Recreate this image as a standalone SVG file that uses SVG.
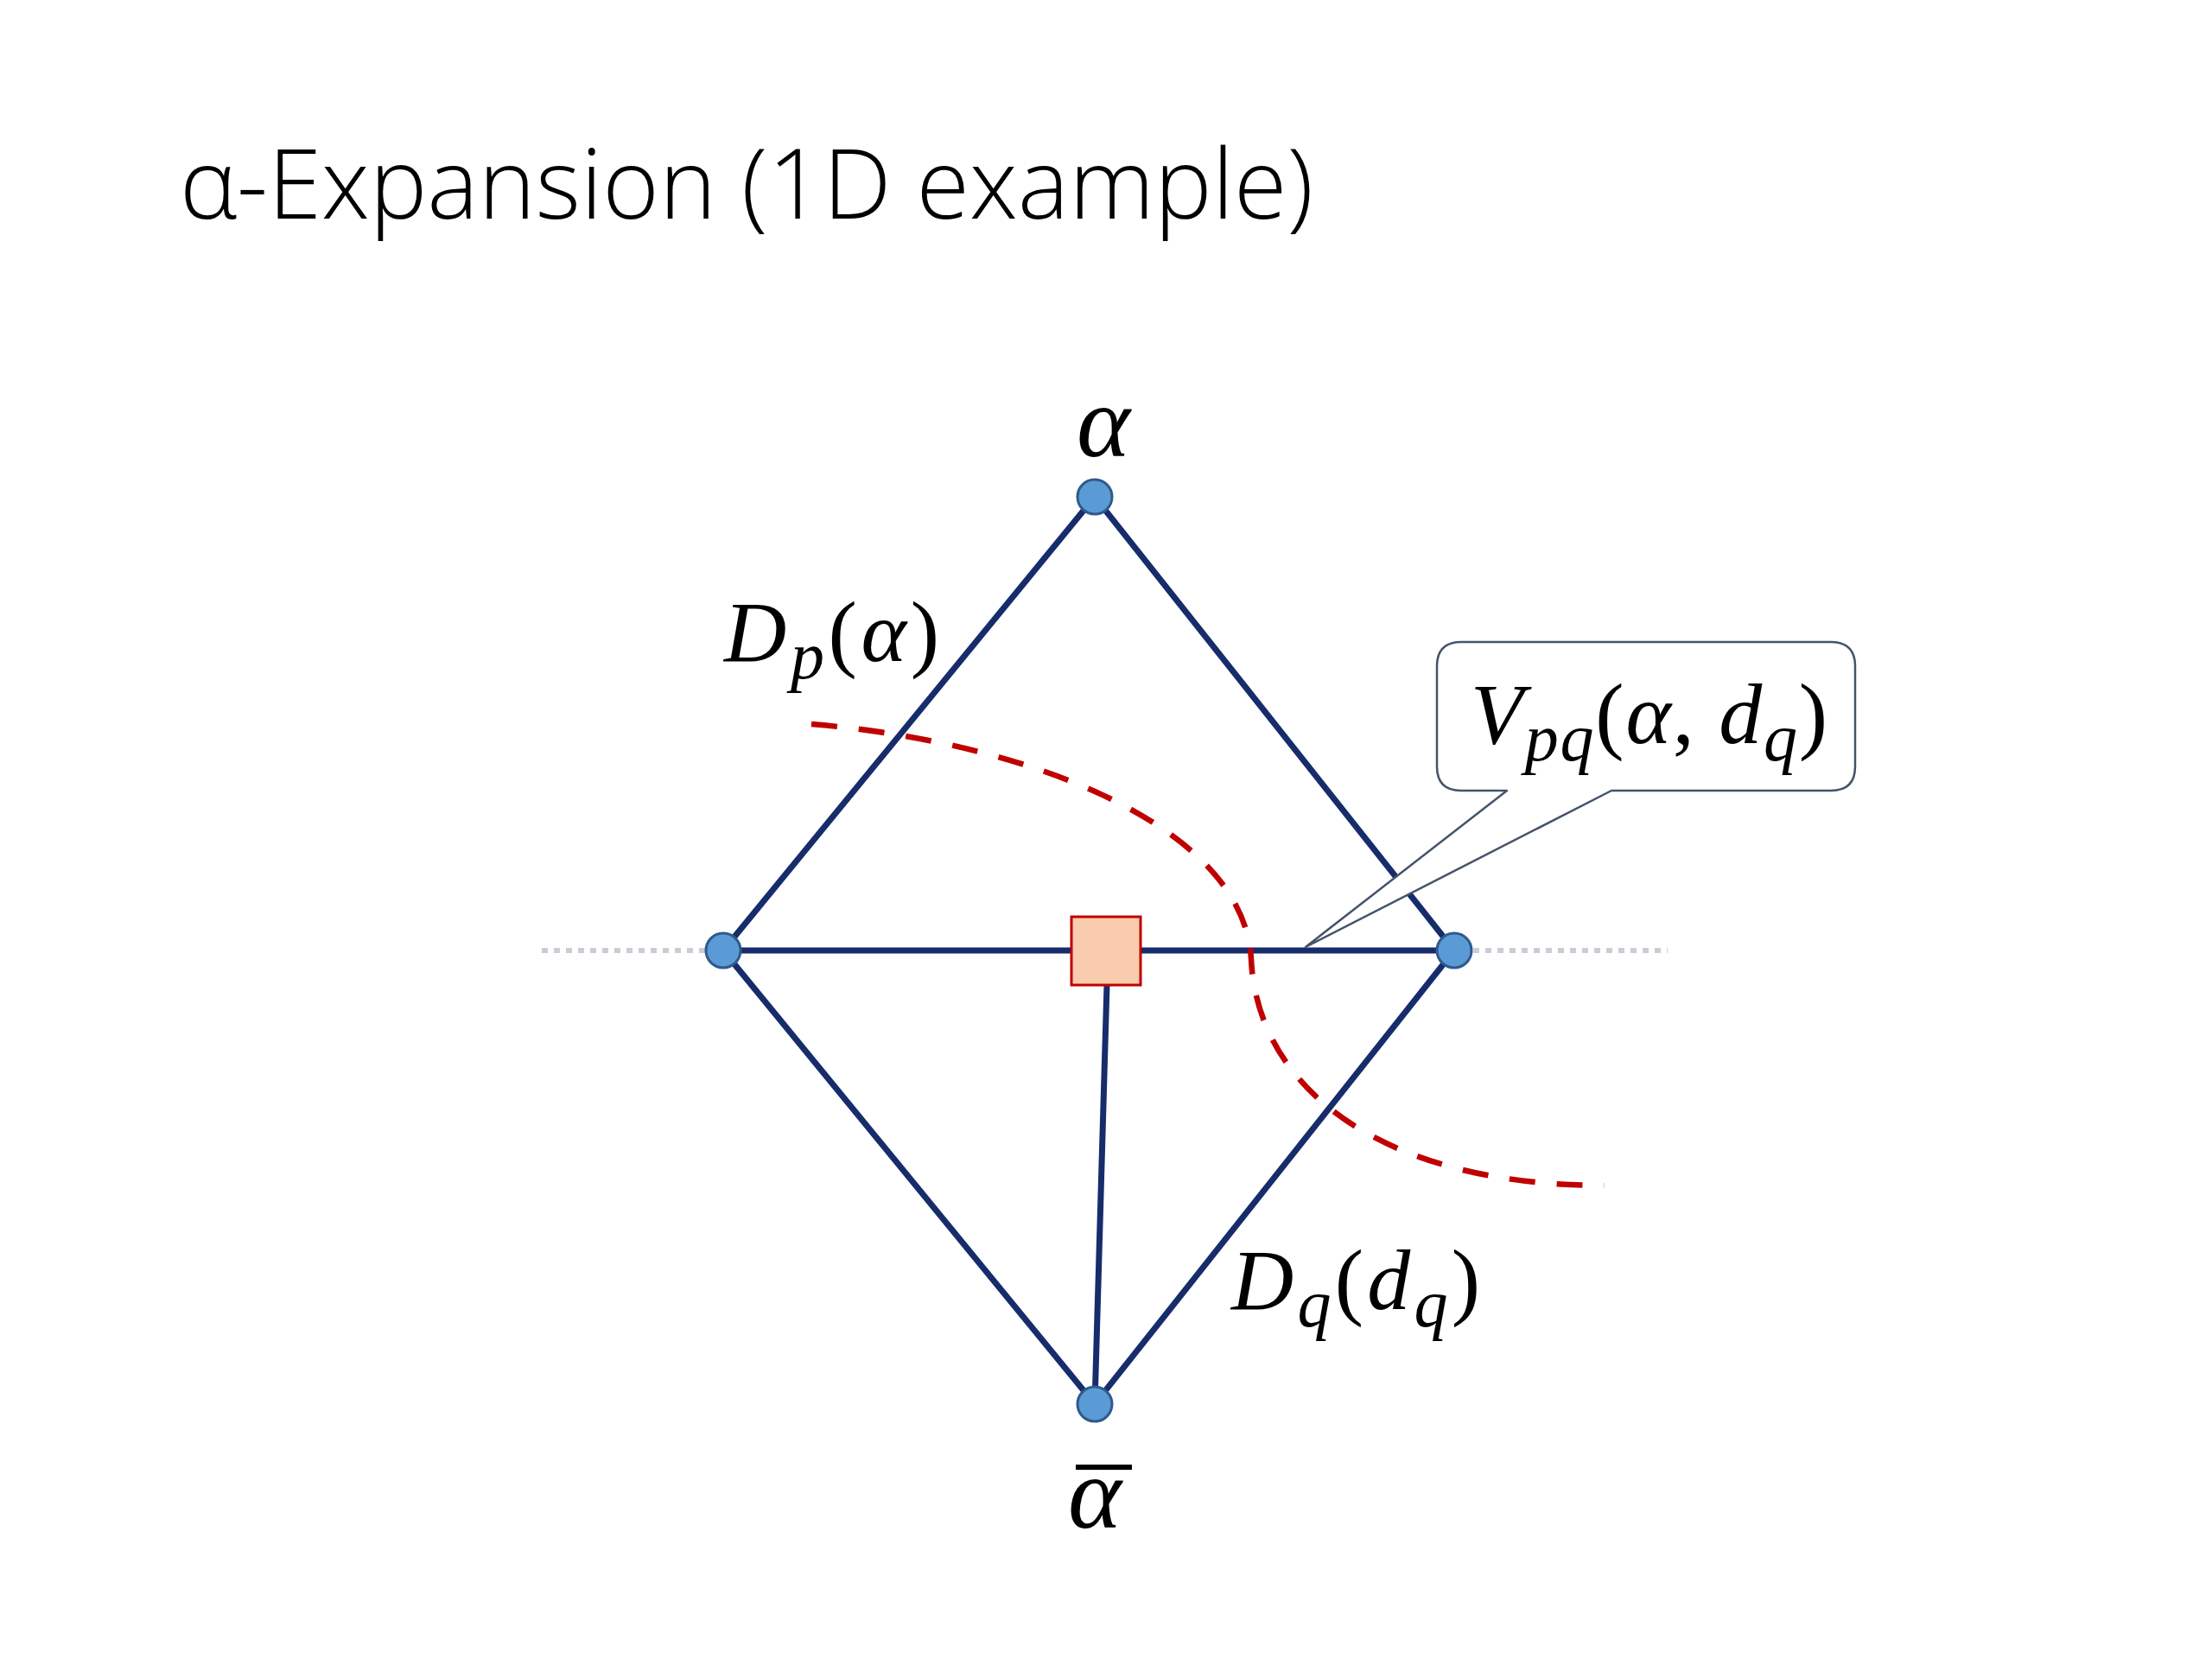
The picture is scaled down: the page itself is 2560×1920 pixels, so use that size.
<svg xmlns="http://www.w3.org/2000/svg" width="2560" height="1920" viewBox="0 0 2560 1920">
<style>
.edge{stroke:#172C6B;stroke-width:7;stroke-linecap:round;fill:none}
.node{fill:#5B9BD5;stroke:#2E5A8C;stroke-width:3}
.math{font-family:"Liberation Serif","DejaVu Serif",serif;fill:#000}
.it{font-style:italic}
.title{font-family:"Open Sans","Noto Sans",sans-serif;font-weight:300;fill:#000}
</style>
<rect width="2560" height="1920" fill="#fff"/>
<text class="title" x="208" y="253" font-size="112" textLength="1312" lengthAdjust="spacingAndGlyphs">α-Expansion (1D example)</text>
<g id="connectors">
<line x1="627" y1="1100" x2="1930" y2="1100" stroke="#C9CED6" stroke-width="6" stroke-dasharray="7 7"/>
<line class="edge" x1="1267" y1="575" x2="837" y2="1100"/>
<line class="edge" x1="1267" y1="575" x2="1683" y2="1100"/>
<line class="edge" x1="837" y1="1100" x2="1267" y2="1625"/>
<line class="edge" x1="1683" y1="1100" x2="1267" y2="1625"/>
<line class="edge" x1="837" y1="1100" x2="1683" y2="1100" stroke-width="8"/>
<line class="edge" x1="1281" y1="1140" x2="1267" y2="1625"/>
</g>
<g id="cut">
<path d="M939,838 C1200,860 1440,960 1448,1110 C1455,1260 1600,1372 1857,1372" fill="none" stroke="#C00000" stroke-width="6.5" stroke-dasharray="30 25"/>
</g>
<g id="node-alpha">
<circle class="node" cx="1267" cy="575" r="20"/>
<text class="math it" x="1277" y="528" font-size="118" text-anchor="middle">α</text>
</g>
<g id="node-p">
<circle class="node" cx="837" cy="1100" r="20"/>
</g>
<g id="node-q">
<circle class="node" cx="1683" cy="1100" r="20"/>
</g>
<g id="node-alphabar">
<circle class="node" cx="1267" cy="1625" r="20"/>
<text class="math it" x="1267" y="1768" font-size="118" text-anchor="middle">α</text>
<line x1="1245" y1="1698" x2="1310" y2="1698" stroke="#000" stroke-width="6"/>
</g>
<g id="aux-node">
<rect x="1240" y="1061" width="80" height="79" fill="#F8CBAD" stroke="#C00000" stroke-width="3"/>
</g>
<g id="label-dp">
<text class="math" x="838" y="765" font-size="100" textLength="249"><tspan class="it">D</tspan><tspan class="it" font-size="78" dy="20">p</tspan><tspan dy="-20">(</tspan><tspan class="it">α</tspan>)</text>
</g>
<g id="label-dq">
<text class="math" x="1425" y="1515" font-size="100" textLength="288"><tspan class="it">D</tspan><tspan class="it" font-size="78" dy="20">q</tspan><tspan dy="-20">(</tspan><tspan class="it">d</tspan><tspan class="it" font-size="78" dy="20">q</tspan><tspan dy="-20">)</tspan></text>
</g>
<g id="callout-vpq">
<path d="M1691,743 H2119 Q2147,743 2147,771 V887 Q2147,915 2119,915 H1865 L1511,1096 L1744,915 H1691 Q1663,915 1663,887 V771 Q1663,743 1691,743 Z" fill="#fff" stroke="#44546A" stroke-width="2.5" stroke-linejoin="round"/>
<text class="math" x="1702" y="860" font-size="100" textLength="413"><tspan class="it">V</tspan><tspan class="it" font-size="78" dy="20">pq</tspan><tspan dy="-20">(</tspan><tspan class="it">α</tspan>, <tspan class="it">d</tspan><tspan class="it" font-size="78" dy="20">q</tspan><tspan dy="-20">)</tspan></text>
</g>
</svg>
